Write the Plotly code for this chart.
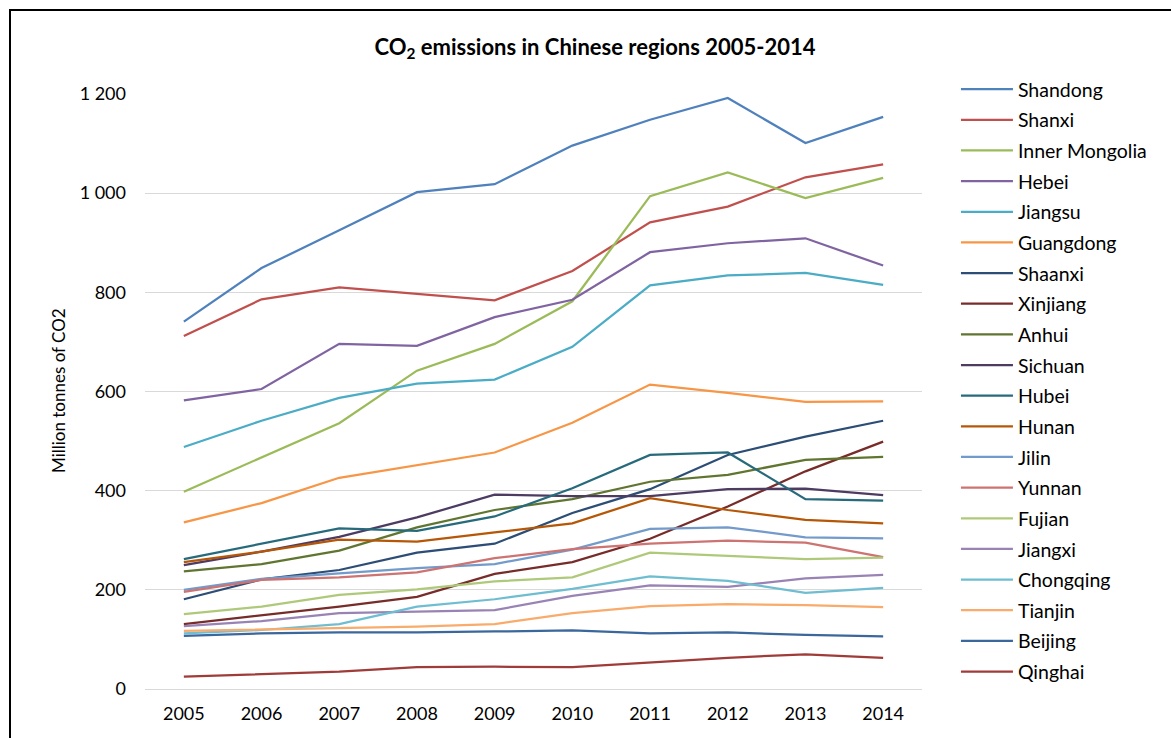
import plotly.graph_objects as go

# Years on the category axis
years = ["2005", "2006", "2007", "2008", "2009", "2010", "2011", "2012", "2013", "2014"]

# CO2 emissions per region, million tonnes
shandong = [741, 849, 925, 1002, 1018, 1096, 1148, 1192, 1101, 1154]
shanxi = [712, 786, 810, 797, 784, 843, 941, 973, 1032, 1058]
inner_mongolia = [398, 467, 536, 642, 696, 782, 994, 1042, 990, 1031]
hebei = [582, 605, 696, 692, 750, 785, 881, 899, 909, 854]
jiangsu = [488, 541, 587, 616, 624, 690, 814, 834, 839, 815]
guangdong = [336, 375, 426, 451, 477, 537, 614, 597, 579, 580]
shaanxi = [181, 221, 240, 275, 293, 355, 403, 472, 509, 541]
xinjiang = [131, 149, 166, 186, 232, 256, 303, 368, 439, 499]
anhui = [237, 252, 279, 326, 361, 383, 418, 432, 462, 468]
sichuan = [250, 277, 307, 346, 392, 389, 389, 403, 404, 391]
hubei = [262, 293, 324, 319, 348, 405, 472, 477, 383, 380]
hunan = [256, 277, 301, 297, 316, 334, 385, 361, 341, 334]
jilin = [200, 222, 233, 244, 252, 281, 323, 326, 306, 304]
yunnan = [196, 220, 225, 235, 264, 282, 293, 299, 295, 266]
fujian = [151, 166, 190, 201, 217, 225, 275, 268, 262, 265]
jiangxi = [127, 137, 153, 156, 159, 188, 209, 206, 223, 230]
chongqing = [112, 119, 131, 166, 181, 202, 227, 218, 194, 204]
tianjin = [117, 120, 124, 126, 131, 153, 167, 171, 169, 165]
beijing = [107, 112, 114, 114, 116, 118, 112, 114, 109, 106]
qinghai = [25, 30, 35, 44, 45, 44, 53, 63, 70, 63]

regions = ["Shandong", "Shanxi", "Inner Mongolia", "Hebei", "Jiangsu", "Guangdong",
           "Shaanxi", "Xinjiang", "Anhui", "Sichuan", "Hubei", "Hunan", "Jilin",
           "Yunnan", "Fujian", "Jiangxi", "Chongqing", "Tianjin", "Beijing", "Qinghai"]
series = [shandong, shanxi, inner_mongolia, hebei, jiangsu, guangdong, shaanxi,
          xinjiang, anhui, sichuan, hubei, hunan, jilin, yunnan, fujian, jiangxi,
          chongqing, tianjin, beijing, qinghai]
colors = ["#4F81BD", "#C0504D", "#9BBB59", "#8064A2", "#4BACC6", "#F79646",
          "#2C4D75", "#772C2A", "#5F7530", "#4D3B62", "#276A7C", "#B65708",
          "#729ACA", "#CD7371", "#AFC97A", "#9983B5", "#6FBDD1", "#F9AB6B",
          "#3A679C", "#9F3B38"]

FONT = "Lato"

fig = go.Figure()
for name, vals, col in zip(regions, series, colors):
    fig.add_trace(go.Scatter(
        x=years, y=vals, name=name, mode="lines", legendgroup=name,
        line=dict(color=col, width=2.25),
    ))

W, H = 1171, 738
L, R, T, B = 145, 922, 94, 689
pw, ph = R - L, B - T

fig.update_layout(
    width=W, height=H,
    margin=dict(l=L, r=W - R, t=T, b=H - B, pad=0),
    paper_bgcolor="white", plot_bgcolor="white",
    separators=". ",
    font=dict(family=FONT, size=18, color="#000000"),
    title=dict(
        text="<b>CO<sub>2</sub> emissions in Chinese regions 2005-2014</b>",
        x=595 / W, xanchor="center", y=1 - 47 / H, yanchor="middle",
        font=dict(family=FONT, size=22, color="#000000"),
    ),
    xaxis=dict(
        type="category", range=[-0.5, 9.5], showgrid=False, zeroline=False,
        showline=False, ticks="", tickfont=dict(size=18), ticklabelstandoff=12,
    ),
    yaxis=dict(
        range=[0, 1200], tickvals=[0, 200, 400, 600, 800, 1000, 1200],
        tickformat=",d", showgrid=True, gridcolor="#D9D9D9", gridwidth=1.3,
        zeroline=True, zerolinecolor="#D9D9D9", zerolinewidth=1.3,
        showline=False, ticks="", tickfont=dict(size=18), ticklabelstandoff=18,
    ),
    legend=dict(
        x=(961 - L) / pw - 0.0065, xanchor="left",
        y=(B - 70) / ph, yanchor="top",
        font=dict(family=FONT, size=19.5),
        tracegroupgap=2.3, itemwidth=52, bgcolor="rgba(0,0,0,0)",
        maxheight=720,
    ),
    showlegend=True,
)

# Axis title on the left
fig.add_annotation(
    text="Million tonnes of CO2", textangle=-90, showarrow=False,
    xref="paper", yref="paper", x=(58 - L) / pw, y=(B - 391) / ph,
    xanchor="center", yanchor="middle", font=dict(family=FONT, size=17),
)

# Chart frame
fig.add_shape(
    type="rect", xref="paper", yref="paper",
    x0=(10 - L) / pw, x1=(1180 - L) / pw, y0=(B - 10) / ph, y1=(B - 760) / ph,
    line=dict(color="#000000", width=2), fillcolor="rgba(0,0,0,0)", layer="above",
)

fig.write_html("out.html")
